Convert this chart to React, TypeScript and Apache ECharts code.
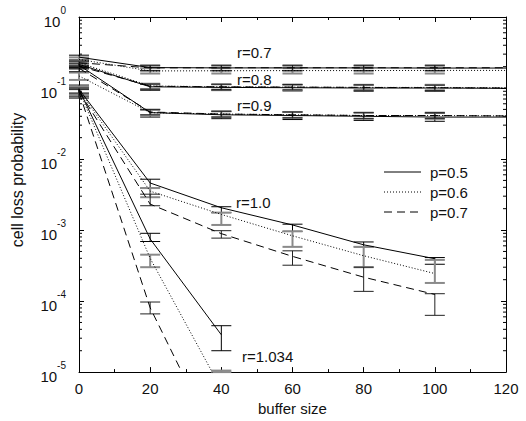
import React, { useEffect, useRef } from "react";
import * as echarts from "echarts";

const bufferSizes = [0, 20, 40, 60, 80, 100, 120];
const pNames = ["p=0.5", "p=0.6", "p=0.7"];

// r = 0.7
const r07p05 = [0.272, 0.194, 0.192, 0.192, 0.192, 0.191, 0.191];
const r07p06 = [0.253, 0.174, 0.175, 0.176, 0.176, 0.177, 0.177];
const r07p07 = [0.227, 0.192, 0.193, 0.193, 0.193, 0.193, 0.193];
const r07p05Lo = [0.25, 0.175, 0.175, 0.175, 0.175, 0.175];
const r07p05Hi = [0.29, 0.21, 0.21, 0.21, 0.21, 0.21];
const r07p06Lo = [0.23, 0.16, 0.16, 0.16, 0.16, 0.16];
const r07p06Hi = [0.27, 0.19, 0.19, 0.19, 0.19, 0.19];
const r07p07Lo = [0.2, 0.175, 0.175, 0.175, 0.175, 0.175];
const r07p07Hi = [0.24, 0.205, 0.205, 0.205, 0.205, 0.205];

// r = 0.8
const r08p05 = [0.215, 0.104, 0.102, 0.101, 0.1, 0.1, 0.099];
const r08p06 = [0.227, 0.107, 0.104, 0.103, 0.102, 0.102, 0.101];
const r08p07 = [0.204, 0.106, 0.104, 0.103, 0.102, 0.101, 0.1];
const r08p05Lo = [0.195, 0.093, 0.092, 0.091, 0.09, 0.09];
const r08p05Hi = [0.235, 0.113, 0.112, 0.111, 0.11, 0.11];
const r08p06Lo = [0.205, 0.097, 0.095, 0.094, 0.093, 0.093];
const r08p06Hi = [0.245, 0.115, 0.113, 0.112, 0.111, 0.111];
const r08p07Lo = [0.185, 0.096, 0.095, 0.094, 0.093, 0.092];
const r08p07Hi = [0.22, 0.114, 0.113, 0.112, 0.111, 0.11];

// r = 0.9
const r09p05 = [0.21, 0.045, 0.042, 0.041, 0.04, 0.039, 0.039];
const r09p06 = [0.148, 0.045, 0.043, 0.042, 0.041, 0.041, 0.0405];
const r09p07 = [0.19, 0.046, 0.043, 0.042, 0.041, 0.041, 0.0405];
const r09p05Lo = [0.19, 0.039, 0.037, 0.036, 0.035, 0.034];
const r09p05Hi = [0.23, 0.05, 0.047, 0.046, 0.045, 0.044];
const r09p06Lo = [0.13, 0.041, 0.039, 0.038, 0.037, 0.037];
const r09p06Hi = [0.165, 0.049, 0.047, 0.046, 0.045, 0.045];
const r09p07Lo = [0.17, 0.042, 0.039, 0.038, 0.037, 0.037];
const r09p07Hi = [0.21, 0.05, 0.047, 0.046, 0.045, 0.045];

// r = 1.0
const r10p05 = [0.096, 0.0046, 0.00206, 0.00118, 0.00062, 0.000395];
const r10p06 = [0.093, 0.00353, 0.00166, 0.00083, 0.000435, 0.000244];
const r10p07 = [0.09, 0.00232, 0.00089, 0.000426, 0.000217, 0.000124];
const r10p05Lo = [0.085, 0.0039, 0.00176, 0.00096, 0.00058, 0.00033];
const r10p05Hi = [0.105, 0.0052, 0.00213, 0.00121, 0.00068, 0.00041];
const r10p06Lo = [0.08, 0.0029, 0.00118, 0.00058, 0.0003, 0.00018];
const r10p06Hi = [0.1, 0.0039, 0.00176, 0.00096, 0.00058, 0.00038];
const r10p07Lo = [0.075, 0.0022, 0.00077, 0.00032, 0.000137, 0.000063];
const r10p07Hi = [0.095, 0.0032, 0.00098, 0.00051, 0.0003, 0.000127];

// r = 1.034
const r1034p05 = [0.096, 0.00075, 0.0000335];
const r1034p06 = [0.093, 0.0004, 0.0000058];
const r1034p07 = [0.088, 0.0000805, 0.00000074];
const r1034p05Lo = [0.082, 0.00069, 0.00002];
const r1034p05Hi = [0.11, 0.0009, 0.000045];
const r1034p06Lo = [0.078, 0.0003, 0.00001];
const r1034p06Hi = [0.105, 0.00045, 0.0000105];
const r1034p07Lo = [0.072, 0.000066];
const r1034p07Hi = [0.1, 0.000097];

const curves = [
  [r07p05, r07p05Lo, r07p05Hi, 0], [r07p06, r07p06Lo, r07p06Hi, 1], [r07p07, r07p07Lo, r07p07Hi, 2],
  [r08p05, r08p05Lo, r08p05Hi, 0], [r08p06, r08p06Lo, r08p06Hi, 1], [r08p07, r08p07Lo, r08p07Hi, 2],
  [r09p05, r09p05Lo, r09p05Hi, 0], [r09p06, r09p06Lo, r09p06Hi, 1], [r09p07, r09p07Lo, r09p07Hi, 2],
  [r10p05, r10p05Lo, r10p05Hi, 0], [r10p06, r10p06Lo, r10p06Hi, 1], [r10p07, r10p07Lo, r10p07Hi, 2],
  [r1034p05, r1034p05Lo, r1034p05Hi, 0], [r1034p06, r1034p06Lo, r1034p06Hi, 1], [r1034p07, r1034p07Lo, r1034p07Hi, 2],
] as [number[], number[], number[], number][];

const FONT = "'Liberation Sans', Arial, Helvetica, sans-serif";
const lineTypes: any[] = ["solid", [1, 2], [8, 5]];
const lineDashes: any[] = [null, [1, 2], [8, 5]];
const errColors = ["#000", "#8a8a8a", "#222"];
const errWidths = [1, 2, 1];

export default function App() {
  const ref = useRef<HTMLDivElement>(null);
  useEffect(() => {
    document.body.style.margin = "0";
    const chart = echarts.init(ref.current!, null, { renderer: "svg" });

    const lineSeries = curves.map(([v, , , p]) => ({
      name: pNames[p],
      type: "line",
      data: v.map((y, i) => [bufferSizes[i], y]),
      symbol: "none",
      showSymbol: false,
      clip: true,
      silent: true,
      z: 3,
      lineStyle: { color: "#000", width: 1, type: lineTypes[p] },
      itemStyle: { color: "#000" },
    }));

    const errSeries = [0, 1, 2].map((p) => {
      const data: number[][] = [];
      curves.forEach(([, lo, hi, cp]) => {
        if (cp !== p) return;
        lo.forEach((l, i) => data.push([bufferSizes[i], l, hi[i]]));
      });
      return {
        type: "custom",
        name: "err" + p,
        silent: true,
        z: 2,
        encode: { x: 0, y: [1, 2] },
        data,
        renderItem: (params: any, api: any) => {
          const x = api.value(0);
          const a = api.coord([x, api.value(2)]);
          const b = api.coord([x, api.value(1)]);
          const cs = params.coordSys;
          const bottom = cs.y + cs.height;
          const style = { stroke: errColors[p], lineWidth: errWidths[p], fill: null };
          const hw = 10;
          const children: any[] = [
            { type: "line", shape: { x1: a[0], y1: Math.min(a[1], bottom), x2: a[0], y2: Math.min(b[1], bottom) }, style },
            { type: "line", shape: { x1: a[0] - hw, y1: a[1], x2: a[0] + hw, y2: a[1] }, style },
          ];
          if (b[1] <= bottom + 0.5) {
            children.push({ type: "line", shape: { x1: b[0] - hw, y1: b[1], x2: b[0] + hw, y2: b[1] }, style });
          }
          return { type: "group", children };
        },
      };
    });

    const minorTickValues: number[][] = [];
    for (let e = -5; e < 0; e++) {
      for (let m = 2; m <= 9; m++) minorTickValues.push([0, m * Math.pow(10, e)]);
    }
    const minorTickSeries = {
      type: "custom",
      silent: true,
      z: 4,
      encode: { x: 0, y: 1 },
      data: minorTickValues,
      renderItem: (params: any, api: any) => {
        const cs = params.coordSys;
        const y = api.coord([0, api.value(1)])[1];
        const style = { stroke: "#000", lineWidth: 1 };
        return {
          type: "group",
          children: [
            { type: "line", shape: { x1: cs.x, y1: y, x2: cs.x + 3, y2: y }, style },
            { type: "line", shape: { x1: cs.x + cs.width - 3, y1: y, x2: cs.x + cs.width, y2: y }, style },
          ],
        };
      },
    };

    const xCommon = {
      type: "value",
      min: 0,
      max: 120,
      interval: 20,
      splitLine: { show: false },
      axisLine: { show: true, onZero: false, lineStyle: { color: "#000", width: 1 } },
      axisTick: { show: true, inside: true, length: 5, lineStyle: { color: "#000" } },
      minorTick: { show: true, splitNumber: 2, length: 3, lineStyle: { color: "#000" } },
    };
    const yCommon = {
      type: "log",
      logBase: 10,
      min: 1e-5,
      max: 1,
      splitNumber: 5,
      splitLine: { show: false },
      axisLine: { show: true, onZero: false, lineStyle: { color: "#000", width: 1 } },
      axisTick: { show: true, inside: true, length: 5, lineStyle: { color: "#000" } },
    };

    const rLabel = (text: string, x: number, y: number) => ({
      type: "text",
      x,
      y,
      silent: true,
      style: { text, font: `15px ${FONT}`, fill: "#111", verticalAlign: "middle" },
    });

    const legendY = [172, 192, 212];
    const legendGraphics: any[] = [];
    pNames.forEach((name, p) => {
      legendGraphics.push({
        type: "line",
        silent: true,
        shape: { x1: 384, y1: legendY[p], x2: 421, y2: legendY[p] },
        style: { stroke: "#000", lineWidth: 1, lineDash: lineDashes[p] },
      });
      legendGraphics.push({
        type: "text",
        x: 430,
        y: legendY[p],
        silent: true,
        style: { text: name, font: `15px ${FONT}`, fill: "#111", verticalAlign: "middle" },
      });
    });

    chart.setOption({
      animation: false,
      backgroundColor: "#fff",
      grid: { left: 79, right: 20, top: 17, bottom: 46, containLabel: false },
      xAxis: [
        {
          ...xCommon,
          position: "bottom",
          name: "buffer size",
          nameLocation: "middle",
          nameGap: 28,
          nameTextStyle: { fontSize: 15, fontFamily: FONT, color: "#111" },
          axisLabel: { fontSize: 15, fontFamily: FONT, color: "#111", margin: 9 },
        },
        { ...xCommon, position: "top", axisLabel: { show: false } },
      ],
      yAxis: [
        {
          ...yCommon,
          position: "left",
          axisLabel: {
            margin: 13,
            formatter: (v: number) => `{b|10}{s|${Math.round(Math.log10(v))}}`,
            rich: {
              b: { fontSize: 15, fontFamily: FONT, color: "#111", lineHeight: 24, verticalAlign: "bottom" },
              s: { fontSize: 10, fontFamily: FONT, color: "#111", lineHeight: 12, verticalAlign: "top" },
            },
          },
        },
        { ...yCommon, position: "right", axisLabel: { show: false } },
      ],
      graphic: [
        {
          type: "text",
          x: 17,
          y: 180,
          rotation: Math.PI / 2,
          silent: true,
          style: { text: "cell loss probability", font: `16px ${FONT}`, fill: "#111", align: "center", verticalAlign: "middle" },
        },
        rLabel("r=0.7", 237, 52),
        rLabel("r=0.8", 237, 79),
        rLabel("r=0.9", 237, 105),
        rLabel("r=1.0", 236, 202),
        rLabel("r=1.034", 242, 356),
        ...legendGraphics,
      ],
      series: [...errSeries, ...lineSeries, minorTickSeries],
    });
    return () => chart.dispose();
  }, []);
  return <div ref={ref} style={{ width: 526, height: 421 }} />;
}
